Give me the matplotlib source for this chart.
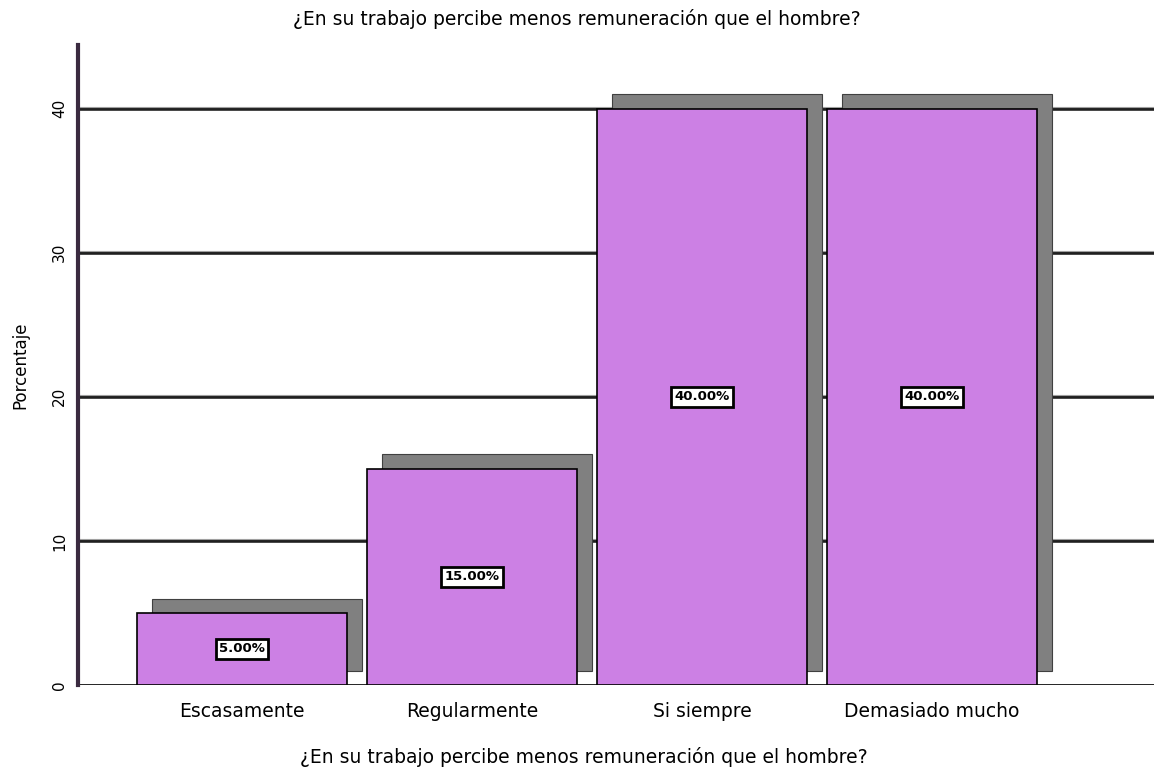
import numpy as np
import matplotlib.pyplot as plt
from matplotlib.patches import Rectangle

# data
categories = ['Escasamente', 'Regularmente', 'Si siempre', 'Demasiado mucho']
percent = [5.0, 15.0, 40.0, 40.0]
yticks = [0, 10, 20, 30, 40]
title = '¿En su trabajo percibe menos remuneración que el hombre?'

bar_color = '#cc80e4'
shadow_color = '#808080'

fig = plt.figure(figsize=(11.54, 7.78), dpi=100)
ax = fig.add_axes([0.0676, 0.1195, 0.9324, 0.8225])

x = np.arange(len(categories))
width = 0.913
dx = 0.065   # shadow offset (x, data units)
dy = 1.0     # shadow offset (y, data units)

# grid lines behind the bars
for t in yticks[1:]:
    ax.axhline(t, color='#202020', lw=2.6, zorder=1)
    ax.axhline(t + 0.12, color='#a0a0a0', lw=0.8, zorder=1)
ax.axhline(0, color='black', lw=1.2, zorder=1)

for i, v in enumerate(percent):
    # shadow
    ax.add_patch(Rectangle((x[i] - width / 2 + dx, dy), width, v,
                           facecolor=shadow_color, edgecolor='#404040',
                           lw=0.8, zorder=2))
    # front bar
    ax.add_patch(Rectangle((x[i] - width / 2, 0), width, v,
                           facecolor=bar_color, edgecolor='black',
                           lw=1.2, zorder=3))
    ax.text(x[i], v / 2, '%.2f%%' % v, ha='center', va='center',
            fontsize=9.5, fontweight='bold', color='black', zorder=4,
            bbox=dict(boxstyle='square,pad=0.25', facecolor='white',
                      edgecolor='black', lw=2))

ax.set_xlim(-0.713, 3.965)
ax.set_ylim(0, 44.4)
ax.set_xticks(x)
ax.set_xticklabels(categories, fontsize=13.5)
ax.set_yticks(yticks)
ax.set_yticklabels([str(t) for t in yticks], fontsize=11, rotation=90,
                   va='center')
ax.tick_params(axis='x', length=0, pad=12)
ax.tick_params(axis='y', length=0, pad=8)

for s in ['top', 'right', 'bottom']:
    ax.spines[s].set_visible(False)
ax.spines['left'].set_linewidth(3)
ax.spines['left'].set_color('#3a2a40')

ax.set_ylabel('Porcentaje', fontsize=12, labelpad=16)
fig.text(0.506, 0.027, title, ha='center', va='center', fontsize=13.5)
fig.text(0.5, 0.975, title, ha='center', va='center', fontsize=13.5)

fig.savefig('out.png', dpi=100)
